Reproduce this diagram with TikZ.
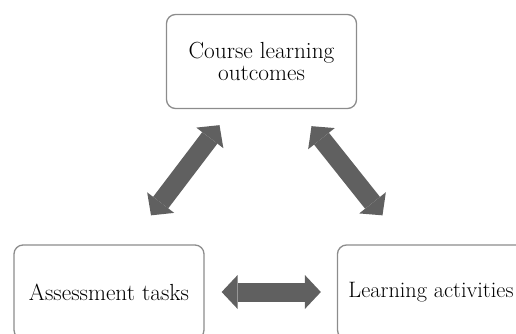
\documentclass[tikz,border=0pt]{standalone}
\usepackage{fontspec}
\usepackage{xcolor}
\usetikzlibrary{arrows.meta}

\definecolor{boxgray}{RGB}{140,140,140}
\definecolor{arrowgray}{RGB}{96,96,96}

\tikzset{
	outcomebox/.style={draw=boxgray, line width=1.3pt, rounded corners=9pt,
		minimum width=190pt, minimum height=94pt, inner sep=0pt, align=center,
		font=\fontsize{23.3}{22.5}\selectfont},
	dblarrow/.style={color=arrowgray, line width=19pt,
		{Triangle[width=34pt,length=16pt,line width=0pt]}-{Triangle[width=34pt,length=16pt,line width=0pt]}}
}

\begin{document}
\begin{tikzpicture}[x=1pt,y=-1pt]
		\useasboundingbox (0,0) rectangle (516,334);
		\clip (0,0) rectangle (516,334);
		\node[outcomebox] (clo) at (261.5,61.5) {Course learning\\outcomes};
		\node[outcomebox] (as) at (109,292) {Assessment tasks};
		\node[outcomebox,font=\fontsize{22.3}{22}\selectfont] (la) at (432.5,292) {\hspace*{-3pt}Learning activities};
		%
		\path[dblarrow]
		([shift={(42,-29)}]as.north) edge ([shift={(-42,16)}]clo.south)
		([shift={(-50,-29)}]la.north) edge ([shift={(50,17)}]clo.south)
		([shift={(17,0)}]as.east) edge ([shift={(-16,0)}]la.west);
	\end{tikzpicture}
\end{document}
